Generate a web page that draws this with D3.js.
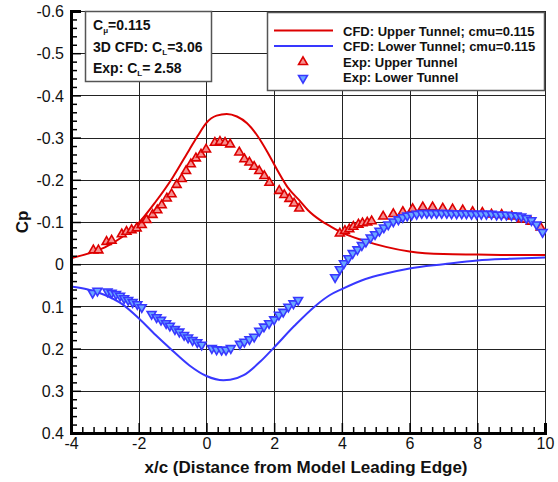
<!DOCTYPE html>
<html>
<head>
<meta charset="utf-8">
<script src="https://cdn.jsdelivr.net/npm/d3@7"></script>
<style>
  html, body { margin: 0; padding: 0; background: #fff; }
  svg { display: block; font-family: "Liberation Sans", Arial, sans-serif; }
</style>
</head>
<body>
<svg id="chart" width="558" height="482"></svg>
<script>
// ---------------- data ----------------
const cfdUpperX = [-4, -3.5, -3, -2.5, -2, -1.5, -1, -0.5, -0.25, 0, 0.3, 0.6, 0.9, 1.2, 1.5, 1.8, 2.1, 2.4, 2.76, 3.0, 3.35, 3.7, 4.0, 4.6, 5.3, 6.0, 7.0, 8.0, 9.0, 10];
const cfdUpperCp = [-0.014, -0.025, -0.040, -0.064, -0.098, -0.148, -0.205, -0.272, -0.305, -0.335, -0.352, -0.356, -0.350, -0.334, -0.305, -0.266, -0.222, -0.182, -0.150, -0.128, -0.105, -0.088, -0.075, -0.057, -0.041, -0.030, -0.024, -0.023, -0.022, -0.022];

const cfdLowerX = [-4, -3.5, -3, -2.5, -2, -1.5, -1, -0.5, 0, 0.5, 0.7, 1.1, 1.6, 2.0, 2.6, 3.2, 3.65, 4.0, 4.7, 5.3, 6.0, 7.0, 8.0, 9.0, 10];
const cfdLowerCp = [0.053, 0.060, 0.073, 0.094, 0.128, 0.168, 0.205, 0.240, 0.265, 0.275, 0.274, 0.263, 0.230, 0.197, 0.146, 0.100, 0.073, 0.059, 0.035, 0.022, 0.010, 0.000, -0.009, -0.013, -0.016];

const expUpperX = [-3.34, -3.19, -2.95, -2.80, -2.50, -2.36, -2.21, -2.06, -1.91, -1.77, -1.59, -1.45, -1.32, -1.17, -1.03, -0.88, -0.73, -0.60, -0.46, -0.31, -0.16, -0.01,
  0.25, 0.40, 0.55, 0.70, 0.97, 1.12, 1.27, 1.41, 1.56, 1.71, 1.86, 2.15, 2.30, 2.45, 2.59, 2.74,
  3.94, 4.09, 4.22, 4.34, 4.49, 4.61, 4.75, 4.88, 5.22, 5.52, 5.80, 6.09, 6.39, 6.68, 6.98, 7.27, 7.57, 7.86, 8.15, 8.42, 8.72, 9.02, 9.31, 9.58, 9.87];
const expUpperCp = [-0.033, -0.033, -0.053, -0.056, -0.071, -0.077, -0.081, -0.085, -0.093, -0.105, -0.117, -0.128, -0.140, -0.156, -0.166, -0.188, -0.202, -0.221, -0.237, -0.251, -0.260, -0.272,
  -0.288, -0.290, -0.288, -0.284, -0.265, -0.249, -0.241, -0.231, -0.221, -0.209, -0.193, -0.174, -0.164, -0.155, -0.144, -0.132,
  -0.073, -0.079, -0.083, -0.089, -0.094, -0.097, -0.099, -0.102, -0.113, -0.119, -0.124, -0.131, -0.135, -0.135, -0.132, -0.130, -0.128, -0.124, -0.122, -0.118, -0.117, -0.113, -0.106, -0.101, -0.087];

const expLowerX = [-3.36, -3.22, -2.92, -2.80, -2.67, -2.55, -2.43, -2.31, -2.18, -2.04, -1.91, -1.62, -1.47, -1.34, -1.19, -1.08, -0.93, -0.80, -0.66, -0.54, -0.41, -0.27, -0.14,
  0.16, 0.30, 0.45, 0.58, 0.72, 0.99, 1.12, 1.27, 1.41, 1.56, 1.70, 1.85, 2.00, 2.14, 2.27, 2.42, 2.57, 2.71,
  3.80, 3.94, 4.06, 4.19, 4.32, 4.46, 4.59, 4.71, 4.85, 4.98, 5.11, 5.24, 5.37, 5.52, 5.67, 5.80, 5.93, 6.06, 6.21, 6.36, 6.51, 6.65, 6.80, 6.95, 7.10, 7.24, 7.39, 7.54, 7.68, 7.83, 7.98, 8.12, 8.27, 8.42, 8.57, 8.71, 8.86, 9.01, 9.16, 9.30, 9.45, 9.60, 9.75, 9.93];
const expLowerCp = [0.068, 0.063, 0.065, 0.068, 0.071, 0.075, 0.081, 0.085, 0.090, 0.095, 0.102, 0.118, 0.126, 0.132, 0.140, 0.146, 0.154, 0.160, 0.168, 0.174, 0.180, 0.185, 0.191,
  0.199, 0.202, 0.203, 0.203, 0.199, 0.189, 0.184, 0.178, 0.172, 0.158, 0.148, 0.140, 0.131, 0.120, 0.113, 0.101, 0.093, 0.085,
  0.031, 0.012, -0.002, -0.014, -0.026, -0.035, -0.045, -0.053, -0.063, -0.071, -0.079, -0.087, -0.094, -0.101, -0.106, -0.111, -0.115, -0.117, -0.119, -0.121, -0.121, -0.121, -0.121, -0.121, -0.121, -0.120, -0.120, -0.120, -0.120, -0.119, -0.119, -0.119, -0.119, -0.119, -0.117, -0.117, -0.117, -0.116, -0.115, -0.113, -0.109, -0.104, -0.094, -0.076];

const xTicks = [-4, -2, 0, 2, 4, 6, 8, 10];
const yTicks = [-0.6, -0.5, -0.4, -0.3, -0.2, -0.1, 0, 0.1, 0.2, 0.3, 0.4];
const legendLabels = ["CFD: Upper Tunnel; cmu=0.115", "CFD: Lower Tunnel; cmu=0.115", "Exp: Upper Tunnel", "Exp: Lower Tunnel"];

// ---------------- setup ----------------
const RED = "#dd0000", RED_FILL = "#f59090";
const BLUE = "#3838ff", BLUE_FILL = "#6aa8ff";
const svg = d3.select("#chart");
const x = d3.scaleLinear().domain([-4, 10]).range([71, 545]);
const y = d3.scaleLinear().domain([-0.6, 0.4]).range([11, 433]);

const xMinor = [];
for (let i = 0; i < xTicks.length - 1; i++) for (let k = 1; k < 6; k++) xMinor.push(xTicks[i] + k * 2 / 6);
const yMinor = [];
for (let i = 0; i < yTicks.length - 1; i++) for (let k = 1; k < 5; k++) yMinor.push(yTicks[i] + k * 0.02);

// grid
const grid = svg.append("g").attr("stroke", "#222").attr("stroke-width", 1).attr("shape-rendering", "crispEdges");
grid.selectAll("line.v").data(xTicks.slice(1)).join("line").attr("class", "v")
  .attr("x1", d => Math.round(x(d)) + 0.5).attr("x2", d => Math.round(x(d)) + 0.5).attr("y1", y(-0.6)).attr("y2", y(0.4));
grid.selectAll("line.h").data(yTicks.slice(0, -1)).join("line").attr("class", "h")
  .attr("y1", d => Math.round(y(d)) + 0.5).attr("y2", d => Math.round(y(d)) + 0.5).attr("x1", x(-4)).attr("x2", x(10));

// curves
const line = d3.line().curve(d3.curveMonotoneX);
svg.append("path").attr("d", line(cfdUpperX.map((v, i) => [x(v), y(cfdUpperCp[i])])))
  .attr("fill", "none").attr("stroke", RED).attr("stroke-width", 2);
svg.append("path").attr("d", line(cfdLowerX.map((v, i) => [x(v), y(cfdLowerCp[i])])))
  .attr("fill", "none").attr("stroke", BLUE).attr("stroke-width", 2);

// markers
const tri = d3.symbol().type(d3.symbolTriangle).size(34);
svg.append("g").selectAll("path").data(expUpperX.map((v, i) => [v, expUpperCp[i]])).join("path")
  .attr("d", tri).attr("transform", d => `translate(${x(d[0])},${y(d[1])})`)
  .attr("fill", RED_FILL).attr("stroke", RED).attr("stroke-width", 1.6);
svg.append("g").selectAll("path").data(expLowerX.map((v, i) => [v, expLowerCp[i]])).join("path")
  .attr("d", tri).attr("transform", d => `translate(${x(d[0])},${y(d[1])}) rotate(180)`)
  .attr("fill", BLUE_FILL).attr("stroke", BLUE).attr("stroke-width", 1.6);

// annotation box
const ann = svg.append("g");
ann.append("rect").attr("x", 85.5).attr("y", 11.5).attr("width", 126).attr("height", 70)
  .attr("fill", "#fff").attr("stroke", "#555").attr("stroke-width", 1.5);
const annText = ann.append("g").attr("font-weight", "bold").attr("font-size", 14).attr("fill", "#111");
let t1 = annText.append("text").attr("x", 93).attr("y", 30);
t1.append("tspan").text("C");
t1.append("tspan").attr("font-size", 8).attr("dy", 3).text("μ");
t1.append("tspan").attr("dy", -3).text("=0.115");
let t2 = annText.append("text").attr("x", 93).attr("y", 51.5);
t2.append("tspan").text("3D CFD: C");
t2.append("tspan").attr("font-size", 8).attr("dy", 3).text("L");
t2.append("tspan").attr("dy", -3).text("=3.06");
let t3 = annText.append("text").attr("x", 93).attr("y", 72.5);
t3.append("tspan").text("Exp: C");
t3.append("tspan").attr("font-size", 8).attr("dy", 3).text("L");
t3.append("tspan").attr("dy", -3).text("= 2.58");

// legend
const leg = svg.append("g");
leg.append("rect").attr("x", 267.5).attr("y", 12.5).attr("width", 277).attr("height", 78)
  .attr("fill", "#fff").attr("stroke", "#555").attr("stroke-width", 1.5);
leg.append("line").attr("x1", 274).attr("x2", 333).attr("y1", 30.5).attr("y2", 30.5).attr("stroke", RED).attr("stroke-width", 2);
leg.append("line").attr("x1", 274).attr("x2", 333).attr("y1", 46).attr("y2", 46).attr("stroke", BLUE).attr("stroke-width", 2);
leg.append("path").attr("d", tri).attr("transform", "translate(303,62)").attr("fill", RED_FILL).attr("stroke", RED).attr("stroke-width", 1.6);
leg.append("path").attr("d", tri).attr("transform", "translate(303,78) rotate(180)").attr("fill", BLUE_FILL).attr("stroke", BLUE).attr("stroke-width", 1.6);
leg.append("g").attr("font-weight", "bold").attr("font-size", 13).attr("fill", "#111")
  .selectAll("text").data(legendLabels).join("text")
  .attr("x", 343).attr("y", (d, i) => 35.5 + i * 15.5).text(d => d);

// axes
const fmt = d => String(Math.round(d * 10) / 10);
const yAxis = svg.append("g").attr("transform", `translate(${x(-4)},0)`)
  .call(d3.axisLeft(y).tickValues(yTicks).tickSize(-10).tickPadding(7).tickFormat(fmt));
const yAxisMinor = svg.append("g").attr("transform", `translate(${x(-4)},0)`)
  .call(d3.axisLeft(y).tickValues(yMinor).tickSize(-6).tickFormat(""));
const xAxis = svg.append("g").attr("transform", `translate(0,${y(0.4)})`)
  .call(d3.axisBottom(x).tickValues(xTicks).tickSize(-10).tickPadding(5).tickFormat(fmt));
const xAxisMinor = svg.append("g").attr("transform", `translate(0,${y(0.4)})`)
  .call(d3.axisBottom(x).tickValues(xMinor).tickSize(-6).tickFormat(""));
[yAxis, yAxisMinor, xAxis, xAxisMinor].forEach(g => {
  g.select(".domain").attr("stroke", "#000").attr("stroke-width", 3);
  g.selectAll(".tick line").attr("stroke", "#000").attr("stroke-width", 1.5);
  g.selectAll(".tick text").attr("font-size", 16).attr("fill", "#111").attr("font-family", "'Liberation Sans', Arial, sans-serif");
});
yAxis.selectAll(".tick text").attr("dy", "0.36em");

// axis titles
svg.append("text").attr("transform", `translate(28,${y(-0.1)}) rotate(-90)`)
  .attr("text-anchor", "middle").attr("font-weight", "bold").attr("font-size", 17).attr("fill", "#111").text("Cp");
svg.append("text").attr("x", 306).attr("y", 473).attr("text-anchor", "middle")
  .attr("font-weight", "bold").attr("font-size", 17).attr("fill", "#111").text("x/c (Distance from Model Leading Edge)");
</script>
</body>
</html>
